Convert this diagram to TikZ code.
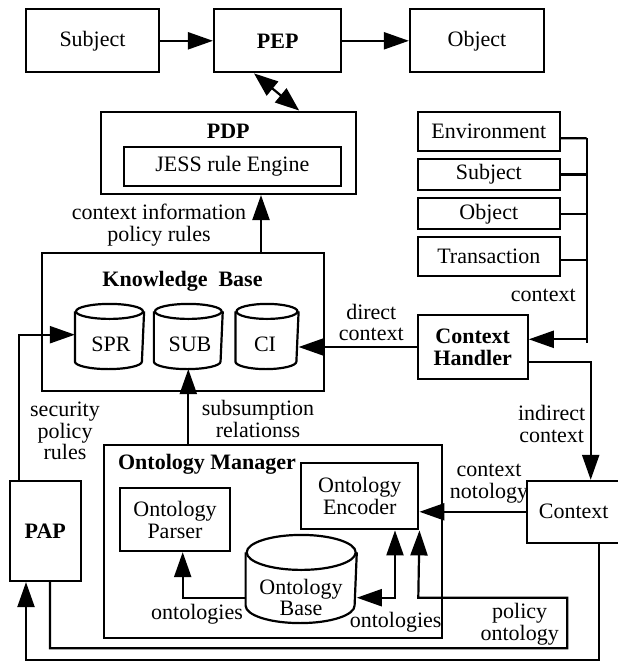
\documentclass[tikz,border=0pt]{standalone}
\usepackage{fontspec}
\setmainfont{Liberation Serif}
\usetikzlibrary{arrows.meta,calc}
\newcommand\fsz{\fontsize{22}{21.7}\selectfont}
% cylinder outline drawn on the bounding rectangle of a node: name, x radius, y radius
\newcommand\mycyl[3]{%
  \draw ([yshift=-#3]#1.north) ellipse[x radius=#2, y radius=#3];
  \draw ([yshift=-#3]#1.north west) -- ([yshift=#3]#1.south west)
        arc[start angle=180, end angle=360, x radius=#2, y radius=#3]
        -- ([yshift=-#3]#1.north east);}
\begin{document}
\begin{tikzpicture}[x=1pt, y=-1pt, line width=2.2pt, font=\fsz,
  box/.style={draw, inner sep=0pt, align=center},
  lbl/.style={inner sep=0pt, align=center},
  cylb/.style={inner sep=0pt},
  arr/.style={-{Triangle[length=25pt,width=17pt]}},
  darr/.style={{Triangle[length=24pt,width=18pt]}-{Triangle[length=24pt,width=18pt]}},
  arrb/.style={{Triangle[length=25pt,width=17pt]}-{Triangle[length=25pt,width=17pt]}}]
\useasboundingbox (0,0) rectangle (618,662);

% top row
\node[box, minimum width=133pt, minimum height=63pt] (subj) at (92.5,40.8) {Subject};
\node[box, minimum width=127.3pt, minimum height=63pt] (pep) at (277.7,40.8) {\bfseries PEP};
\node[box, minimum width=134pt, minimum height=63pt] (obj) at (477,40.8) {Object};
\draw[arr] (subj) -- (pep);
\draw[arr] (pep) -- (obj);

% PDP
\node[box, minimum width=255pt, minimum height=82.3pt] (pdp) at (228.2,152.8) {};
\node[lbl] (pdpt) at (228.2,131.7) {\bfseries PDP};
\node[box, minimum width=216.7pt, minimum height=39.3pt] (jess) at (232.3,166.3) {JESS rule Engine};
\draw[darr] ([xshift=-23.7pt]pep.south) -- ([xshift=71pt]pdp.north);

% Knowledge base
\node[box, minimum width=282.3pt, minimum height=137.7pt] (kb) at (182.8,322.2) {};
\node[lbl] (kbt) at (182.5,281) {\bfseries Knowledge\ \ Base};
\node[cylb, minimum width=67pt, minimum height=63pt] (spr) at (109.5,336.5) {};
\node[cylb, minimum width=66.7pt, minimum height=63pt] (sub) at (188.3,336.5) {};
\node[cylb, minimum width=61pt, minimum height=63pt] (ci) at (267,336.5) {};
\mycyl{spr}{33.5pt}{7.5pt}
\mycyl{sub}{33.35pt}{7.5pt}
\mycyl{ci}{30.5pt}{7.5pt}
\node[lbl] (sprt) at (111,344.3) {SPR};
\node[lbl] (subt) at (190,344.3) {SUB};
\node[lbl] (cit) at (265,344.3) {CI};
\draw[arr] ([xshift=78.2pt]kb.north) -- ([xshift=78.2pt]kb.north |- pdp.south);
\node[lbl] (l1) at (159,225) {context information\\policy rules};

% right context sources
\node[box, minimum width=141.7pt, minimum height=39pt] (env) at (488.8,131.2) {Environment};
\node[box, minimum width=141.7pt, minimum height=31pt] (rsub) at (488.8,174.5) {Subject};
\node[box, minimum width=141.7pt, minimum height=31pt] (robj) at (488.8,213.8) {Object};
\node[box, minimum width=141.7pt, minimum height=38.7pt] (trans) at (488.8,256.7) {Transaction};
\coordinate (busT) at (586.7,138.3);
\coordinate (busB) at (586.7,342.7);
\coordinate (busJ) at (586.7,339.3);
\draw (busT) -- (busB);
\draw ([yshift=-7pt]env.east) -- (busT);
\draw (rsub.east) -- (rsub.east -| busT);
\draw (robj.east) -- (robj.east -| busT);
\draw ([yshift=-3.3pt]trans.east) -- ([yshift=-3.3pt]trans.east -| busT);
\node[lbl] (l2) at (543.3,295) {context};

% context handler
\node[box, minimum width=110pt, minimum height=64pt] (ch) at (472.7,347) {\bfseries Context\\\bfseries Handler};
\draw[arr] (busJ) -- (busJ -| ch.east);
\draw[arr] (ch.west) -- (ch.west -| ci.east);
\node[lbl] (l3) at (371.3,322.5) {direct\\context};

% Context
\node[box, minimum width=92.7pt, minimum height=61.7pt] (ctx) at (573.7,511.8) {Context};
\draw[arr] ([yshift=-15.3pt]ch.east) -| ([xshift=17pt]ctx.north);
\node[lbl] (l4) at (551.7,424) {indirect\\context};

% PAP
\node[box, minimum width=70.7pt, minimum height=100pt] (pap) at (45.3,531) {\bfseries PAP};
\draw[arr] ([xshift=-26.3pt]pap.north) |- ([yshift=1.8pt]spr.west);
\node[lbl] (l5) at (65,431) {security\\policy\\rules};

% Ontology manager
\node[box, minimum width=338pt, minimum height=192.4pt] (om) at (273.3,541.5) {};
\node[lbl, anchor=west] (omt) at (117,464.3) {\bfseries Ontology Manager};
\draw[arr] (om.north -| sub.south) -- (sub.south);
\node[lbl] (l6) at (258,419) {subsumption\\relationss};
\node[box, minimum width=110pt, minimum height=62.7pt] (parser) at (175,519.7) {Ontology\\Parser};
\node[box, minimum width=117.3pt, minimum height=66.6pt] (enc) at (359.7,496) {Ontology\\Encoder};
\node[cylb, minimum width=109pt, minimum height=86pt] (obase) at (301.2,579) {};
\mycyl{obase}{54.5pt}{17.5pt}
\node[lbl] (obt) at (301,597.5) {Ontology\\Base};
\draw[arr] ([yshift=-18.7pt]obase.west) -| ([xshift=7.7pt]parser.south);
\node[lbl] (l7) at (197,614.3) {ontologies};
\draw[arrb] ([yshift=-18.7pt]obase.east) -| ([xshift=35.3pt]enc.south);
\node[lbl] (l8) at (395.7,622.7) {ontologies};
\draw[arr] (ctx.west) -- (ctx.west -| enc.east);
\node[lbl] (l9) at (489,484) {context\\notology};

% policy ontology path PAP -> encoder
\coordinate (p1) at (567.3,648.3);
\coordinate (p2) at (418.3,597.7);
\draw[arr] ([xshift=4.7pt]pap.south) |- (p1) |- (p2) -- (enc.south east);
\node[lbl] (l10) at (519.7,624) {policy\\ontology};

% Context -> PAP
\coordinate (q) at (26,660.3);
\draw[arr] ([xshift=25.3pt]ctx.south) |- (q) -- ([xshift=-19.3pt]pap.south);
\end{tikzpicture}
\end{document}
